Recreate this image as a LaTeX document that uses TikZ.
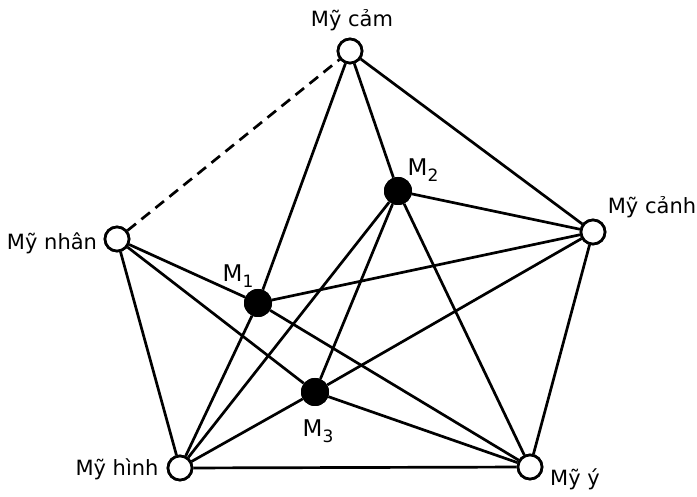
\documentclass[tikz,border=0pt]{standalone}
\usepackage{fontspec}
\setmainfont{DejaVu Sans}
\begin{document}
\begin{tikzpicture}[x=1pt,y=-1pt,
  oc/.style={circle,draw,line width=2.7pt,fill=white,minimum size=24pt,inner sep=0pt},
  bc/.style={circle,fill=black,minimum size=28pt,inner sep=0pt},
  edge/.style={line width=2.7pt},
  lbl/.style={font=\fontsize{21}{22}\selectfont,inner sep=0pt},
  mlbl/.style={font=\fontsize{23}{23}\selectfont,inner sep=0pt}]
\useasboundingbox (0,0) rectangle (697,497);
\newcommand{\msub}[1]{M\raisebox{-0.45ex}{\fontsize{17}{17}\selectfont #1}}
% nodes
\node[oc] (cam) at (350,51) {};
\node[oc] (canh) at (593,232) {};
\node[oc] (nhan) at (117,239) {};
\node[oc] (hinh) at (180,468) {};
\node[oc] (y) at (530,467) {};
\node[bc] (m1) at (258,303) {};
\node[bc] (m2) at (398,191) {};
\node[bc] (m3) at (315,392) {};
% edges
\draw[edge,dash pattern=on 11pt off 7pt] (nhan) -- (cam);
\draw[edge] (cam) -- (canh);
\draw[edge] (canh) -- (y);
\draw[edge] (y) -- (hinh);
\draw[edge] (hinh) -- (nhan);
\foreach \a in {cam,nhan,canh,hinh,y} \draw[edge] (m1) -- (\a);
\foreach \a in {cam,canh,y,hinh,m3} \draw[edge] (m2) -- (\a);
\foreach \a in {nhan,hinh,canh,y} \draw[edge] (m3) -- (\a);
% redraw nodes on top
\node[oc] at (cam) {};
\node[oc] at (canh) {};
\node[oc] at (nhan) {};
\node[oc] at (hinh) {};
\node[oc] at (y) {};
\node[bc] at (m1) {};
\node[bc] at (m2) {};
\node[bc] at (m3) {};
% labels
\node[lbl] (lcam) at (352,20) {Mỹ cảm};
\node[lbl] (lnhan) at (52,243) {Mỹ nhân};
\node[lbl] (lcanh) at (652,207) {Mỹ cảnh};
\node[lbl] (lhinh) at (117,469) {Mỹ hình};
\node[lbl] (ly) at (575,479) {Mỹ ý};
\node[mlbl] (lm1) at (238,276) {\msub{1}};
\node[mlbl] (lm2) at (423,170) {\msub{2}};
\node[mlbl] (lm3) at (318,431) {\msub{3}};
\end{tikzpicture}
\end{document}
